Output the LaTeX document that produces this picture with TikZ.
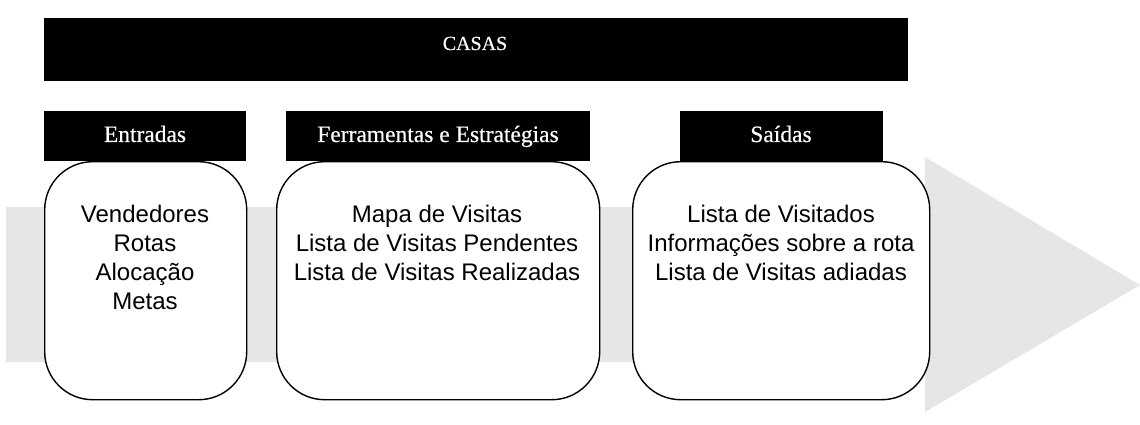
\documentclass[tikz,border=0pt]{standalone}
\usepackage{fontspec}
\setmainfont{Liberation Serif}
\newfontfamily\hdrfont[FakeBold=0.4]{Liberation Serif}
\newfontfamily\bodyfont{Liberation Sans}
\definecolor{arrowgray}{HTML}{E6E6E6}
\begin{document}
\begin{tikzpicture}[x=1pt,y=-1pt,
  bar/.style={fill=black, draw=none, inner sep=0pt, anchor=north west},
  hdrtext/.style={text=white, font=\hdrfont\fontsize{23.5}{26}\selectfont, inner sep=0pt, anchor=base},
  card/.style={draw=black, line width=1.4pt, fill=white, rounded corners=48pt, inner sep=0pt, anchor=north west},
  body/.style={font=\bodyfont\fontsize{24}{29}\selectfont, align=center, anchor=north, inner sep=0pt}]
\useasboundingbox (0,0) rectangle (1140,425);
% big gray arrow
\fill[arrowgray] (6,207) -- (925,207) -- (925,157) -- (1140,285) -- (925,412) -- (925,362) -- (6,362) -- cycle;
% title bar
\node[bar, minimum width=864pt, minimum height=63pt] (casas) at (44,18) {};
\node[hdrtext, font=\hdrfont\fontsize{20}{22}\selectfont] (casast) at (475,50) {CASAS};
% cards
\node[card, minimum width=202pt, minimum height=238pt] (c1) at (44,161) {};
\node[card, minimum width=323pt, minimum height=238pt] (c2) at (276,161) {};
\node[card, minimum width=297pt, minimum height=238pt] (c3) at (632,161) {};
% headers
\node[bar, minimum width=202pt, minimum height=50pt] (h1) at (44,111) {};
\node[bar, minimum width=304pt, minimum height=50pt] (h2) at (286,111) {};
\node[bar, minimum width=203pt, minimum height=50pt] (h3) at (680,111) {};
\node[hdrtext] (h1t) at (145,142) {Entradas};
\node[hdrtext] (h2t) at (438,142) {Ferramentas e Estratégias};
\node[hdrtext] (h3t) at (781,142) {Saídas};
% body texts
\node[body] (b1) at (145,205) {Vendedores\\Rotas\\Alocação\\Metas};
\node[body] (b2) at (437,205) {Mapa de Visitas\\Lista de Visitas Pendentes\\Lista de Visitas Realizadas};
\node[body] (b3) at (781,205) {Lista de Visitados\\Informações sobre a rota\\Lista de Visitas adiadas};
\end{tikzpicture}
\end{document}
